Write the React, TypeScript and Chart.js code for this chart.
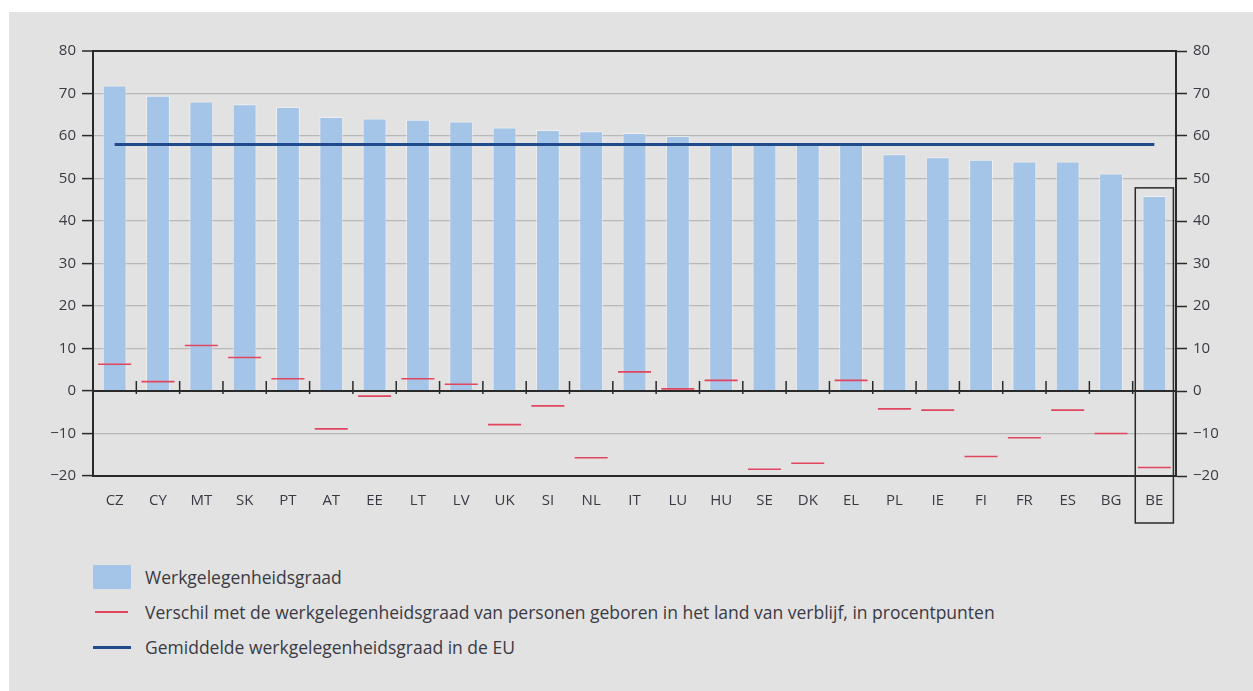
import React, { useEffect, useRef } from "react";
import Chart from "chart.js/auto";

const countries = ["CZ", "CY", "MT", "SK", "PT", "AT", "EE", "LT", "LV", "UK", "SI", "NL", "IT", "LU", "HU", "SE", "DK", "EL", "PL", "IE", "FI", "FR", "ES", "BG", "BE"];
const employmentRate = [71.9, 69.5, 68.1, 67.5, 66.8, 64.5, 64.1, 63.8, 63.4, 62.0, 61.4, 61.1, 60.7, 60.0, 58.1, 58.2, 58.2, 58.1, 55.7, 55.0, 54.4, 54.0, 54.0, 51.2, 45.9];
const gapWithNativeBorn = [6.3, 2.2, 10.7, 7.9, 2.9, -8.9, -1.2, 2.9, 1.6, -7.9, -3.5, -15.7, 4.5, 0.5, 2.5, -18.4, -17.0, 2.5, -4.2, -4.5, -15.4, -11.0, -4.5, -10.0, -18.0];
const euAverage = 58.0;
const highlighted = "BE";
const yTicks = { min: -20, max: 80, step: 10 };

const BAR = "#a4c5e8";
const RED = "#e2455e";
const NAVY = "#1f4a8c";
const DARK = "#2a2a2a";
const GRID = "#b8b8b8";
const TEXT = "#3a3a44";
const FONT = "'Open Sans', 'Noto Sans', sans-serif";

const fmt = (v: number | string) => {
  const n = Number(v);
  return n < 0 ? "\u2212" + Math.abs(n) : String(n);
};

// Short tick marks on the zero line between categories, and a frame around the highlighted country
const zeroLineMarks = {
  id: "zeroLineMarks",
  afterDatasetsDraw(chart: any) {
    const { ctx, scales, chartArea } = chart;
    const x = scales.x;
    const y0 = scales.y.getPixelForValue(0);
    ctx.save();
    ctx.strokeStyle = DARK;
    ctx.lineWidth = 2;
    ctx.beginPath();
    ctx.moveTo(chartArea.left, y0);
    ctx.lineTo(chartArea.right, y0);
    ctx.stroke();
    ctx.lineWidth = 1.5;
    for (let i = 1; i < countries.length; i++) {
      const bx = (x.getPixelForValue(i - 1) + x.getPixelForValue(i)) / 2;
      ctx.beginPath();
      ctx.moveTo(bx, y0 - 10);
      ctx.lineTo(bx, y0 + 3);
      ctx.stroke();
    }
    ctx.restore();
  },
  afterDraw(chart: any) {
    const { ctx, scales, chartArea } = chart;
    const idx = countries.indexOf(highlighted);
    if (idx < 0) return;
    const x = scales.x;
    const step = x.getPixelForValue(1) - x.getPixelForValue(0);
    const cx = x.getPixelForValue(idx);
    const half = step * 0.44;
    const top = scales.y.getPixelForValue(employmentRate[idx] + 1.9);
    const bottom = chartArea.bottom + 47;
    ctx.save();
    ctx.strokeStyle = DARK;
    ctx.lineWidth = 1.5;
    ctx.strokeRect(cx - half, top, half * 2, bottom - top);
    ctx.restore();
  },
};

export default function App() {
  const ref = useRef<HTMLCanvasElement>(null);

  useEffect(() => {
    if (!ref.current) return;
    const chart = new Chart(ref.current, {
      type: "bar",
      data: {
        labels: countries,
        datasets: [
          {
            type: "bar",
            label: "Werkgelegenheidsgraad",
            data: employmentRate,
            backgroundColor: BAR,
            borderColor: "rgba(255,255,255,0.45)",
            borderWidth: 1,
            barPercentage: 0.55,
            categoryPercentage: 1,
            order: 3,
          },
          {
            type: "line",
            label: "Gemiddelde werkgelegenheidsgraad in de EU",
            data: countries.map(() => euAverage),
            borderColor: NAVY,
            borderWidth: 3,
            pointRadius: 0,
            order: 2,
          },
          {
            type: "line",
            label: "Verschil",
            data: gapWithNativeBorn,
            showLine: false,
            pointStyle: "line",
            pointRadius: 16.5,
            pointBorderColor: RED,
            pointBorderWidth: 1.6,
            pointBackgroundColor: RED,
            order: 1,
          },
        ],
      },
      options: {
        responsive: false,
        animation: false,
        events: [],
        layout: { padding: { top: 39, left: 0, right: 0, bottom: 0 } },
        plugins: { legend: { display: false }, tooltip: { enabled: false } },
        scales: {
          x: {
            position: "bottom",
            grid: { display: false },
            border: { color: DARK, width: 2 },
            ticks: { color: TEXT, font: { family: FONT, size: 15 }, padding: 8, maxRotation: 0, autoSkip: false },
            afterFit: (s: any) => { s.height = 66; },
          },
          y: {
            position: "left",
            min: yTicks.min,
            max: yTicks.max,
            ticks: { stepSize: yTicks.step, color: TEXT, font: { family: FONT, size: 15 }, padding: 6, callback: fmt },
            grid: {
              color: (c: any) => (c.tick.value === yTicks.max ? DARK : GRID),
              lineWidth: (c: any) => (c.tick.value === yTicks.max ? 2 : 1.2),
              tickColor: DARK,
              tickLength: 11,
              tickWidth: 1.5,
            },
            border: { color: DARK, width: 2 },
            afterFit: (s: any) => { s.width = 84; },
          },
          y2: {
            position: "right",
            min: yTicks.min,
            max: yTicks.max,
            ticks: { stepSize: yTicks.step, color: TEXT, font: { family: FONT, size: 15 }, padding: 6, callback: fmt },
            grid: { drawOnChartArea: false, tickColor: DARK, tickLength: 11, tickWidth: 1.5 },
            border: { color: DARK, width: 2 },
            afterFit: (s: any) => { s.width = 77; },
          },
        },
      },
      plugins: [zeroLineMarks],
    });
    return () => chart.destroy();
  }, []);

  const legendText: React.CSSProperties = {
    position: "absolute",
    left: 136,
    fontFamily: FONT,
    fontSize: 17.5,
    color: TEXT,
    lineHeight: "22px",
    whiteSpace: "nowrap",
  };

  return (
    <div style={{ position: "fixed", inset: 0, background: "#fff" }}>
      <div style={{ position: "absolute", left: 9, top: 12, width: 1244, height: 679, background: "#e2e2e2" }}>
        <canvas ref={ref} width={1244} height={530} style={{ position: "absolute", left: 0, top: 0 }} />
        <div style={{ position: "absolute", left: 84, top: 553, width: 38, height: 24, background: BAR }} />
        <div style={{ ...legendText, top: 554 }}>Werkgelegenheidsgraad</div>
        <div style={{ position: "absolute", left: 86, top: 599, width: 33, height: 1.6, background: RED }} />
        <div style={{ ...legendText, top: 589 }}>
          Verschil met de werkgelegenheidsgraad van personen geboren in het land van verblijf, in procentpunten
        </div>
        <div style={{ position: "absolute", left: 84, top: 634, width: 38, height: 3, background: NAVY }} />
        <div style={{ ...legendText, top: 624 }}>Gemiddelde werkgelegenheidsgraad in de EU</div>
      </div>
    </div>
  );
}
